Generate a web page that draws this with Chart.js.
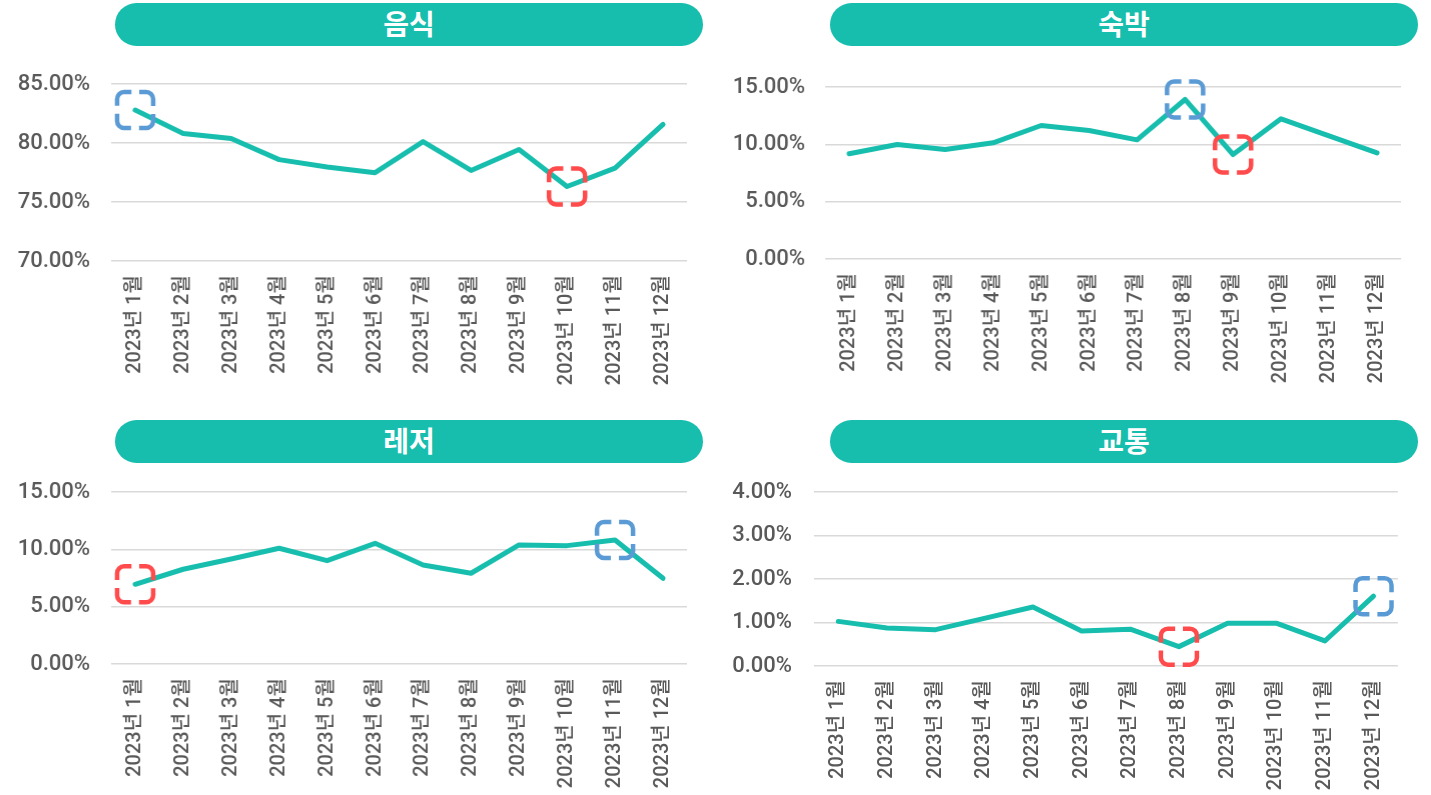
<!DOCTYPE html>
<html>
<head>
<meta charset="utf-8">
<style>
    body { margin: 0; background: #fff; width: 1431px; height: 795px; overflow: hidden; position: relative; }
    .pill {
        position: absolute; height: 43px; width: 588px; border-radius: 22px;
        background: #17BEAE; color: #fff; text-align: center; line-height: 43px;
        font: bold 28px "Noto Sans CJK KR", sans-serif;
    }
    .box { position: absolute; left: 0; top: 0; width: 700px; height: 330px; }
</style>
</head>
<body>
<div class="pill" style="left:115px; top:3px;">음식</div>
<div class="pill" style="left:830px; top:3px;">숙박</div>
<div class="pill" style="left:115px; top:420px;">레저</div>
<div class="pill" style="left:830px; top:420px;">교통</div>

<div class="box"><canvas id="c1"></canvas></div>
<div class="box"><canvas id="c2"></canvas></div>
<div class="box"><canvas id="c3"></canvas></div>
<div class="box"><canvas id="c4"></canvas></div>

<script src="https://cdn.jsdelivr.net/npm/chart.js"></script>
<script>
    // months on the x axis
    const months = ['2023년 1월', '2023년 2월', '2023년 3월', '2023년 4월', '2023년 5월', '2023년 6월',
        '2023년 7월', '2023년 8월', '2023년 9월', '2023년 10월', '2023년 11월', '2023년 12월'];

    // share of spending per category (%)
    const food = [82.81, 80.82, 80.40, 78.61, 77.98, 77.50, 80.14, 77.69, 79.46, 76.33, 77.89, 81.59];
    const lodging = [9.19, 10.00, 9.57, 10.15, 11.66, 11.22, 10.41, 13.93, 9.13, 12.24, 10.75, 9.27];
    const leisure = [6.97, 8.28, 9.17, 10.11, 9.03, 10.54, 8.65, 7.93, 10.40, 10.34, 10.83, 7.49];
    const transport = [1.03, 0.88, 0.84, 1.10, 1.36, 0.81, 0.85, 0.45, 0.99, 0.99, 0.58, 1.61];

    const TEAL = '#17BEAE';
    const FONT = 'Roboto, "Noto Sans CJK KR", sans-serif';

    // dashed rounded square around a point
    function drawBox(ctx, pt, color) {
        const s = 36, r = 7, gap = 8;
        const x0 = pt.x - s / 2, y0 = pt.y - s / 2, x1 = x0 + s, y1 = y0 + s;
        const unit = (4 * (s - 2 * r) + 2 * Math.PI * r) / 4;
        ctx.save();
        ctx.beginPath();
        ctx.moveTo(pt.x, y0);
        ctx.lineTo(x1 - r, y0);
        ctx.arcTo(x1, y0, x1, y0 + r, r);
        ctx.lineTo(x1, y1 - r);
        ctx.arcTo(x1, y1, x1 - r, y1, r);
        ctx.lineTo(x0 + r, y1);
        ctx.arcTo(x0, y1, x0, y1 - r, r);
        ctx.lineTo(x0, y0 + r);
        ctx.arcTo(x0, y0, x0 + r, y0, r);
        ctx.closePath();
        ctx.setLineDash([unit - gap, gap]);
        ctx.lineDashOffset = unit - gap / 2;
        ctx.lineWidth = 4.5;
        ctx.strokeStyle = color;
        ctx.stroke();
        ctx.restore();
    }

    const extremes = {
        id: 'extremes',
        afterDatasetsDraw(chart) {
            const vals = chart.data.datasets[0].data;
            const meta = chart.getDatasetMeta(0);
            const hi = vals.indexOf(Math.max(...vals));
            const lo = vals.indexOf(Math.min(...vals));
            drawBox(chart.ctx, meta.data[hi], '#5B9BD5');
            drawBox(chart.ctx, meta.data[lo], '#FF4B4B');
        }
    };

    // area = plot area wanted on the page: [left, top, right, bottom]
    function makeChart(id, values, yMin, yMax, step, axisWidth, labelPad, area) {
        const canvas = document.getElementById(id);
        const chart = new Chart(canvas, {
            type: 'line',
            data: {
                labels: months,
                datasets: [{
                    data: values,
                    borderColor: TEAL,
                    borderWidth: 5,
                    borderCapStyle: 'round',
                    borderJoinStyle: 'round',
                    pointRadius: 0,
                    tension: 0
                }]
            },
            options: {
                responsive: true,
                maintainAspectRatio: false,
                animation: false,
                layout: { padding: { top: 15, right: 14, left: 0, bottom: 0 } },
                plugins: { legend: { display: false }, tooltip: { enabled: false } },
                scales: {
                    x: {
                        offset: true,
                        grid: { display: false, drawTicks: false },
                        border: { display: false },
                        ticks: {
                            color: '#595959', font: { family: FONT, size: 20, weight: '500' },
                            minRotation: 90, maxRotation: 90, autoSkip: false, padding: 14
                        },
                        afterFit(s) { s.height = 140; }
                    },
                    y: {
                        min: yMin, max: yMax,
                        grid: { color: '#d9d9d9', lineWidth: 1.5, drawTicks: false },
                        border: { display: false },
                        ticks: {
                            stepSize: step, color: '#595959', padding: labelPad,
                            font: { family: FONT, size: 22, weight: '500' },
                            callback: v => v.toFixed(2) + '%'
                        },
                        afterFit(s) { s.width = axisWidth; }
                    }
                }
            },
            plugins: [extremes]
        });

        // move/resize the holder so the plot area lands where wanted
        const box = canvas.parentNode;
        const ca = chart.chartArea;
        const l = ca.left, t = ca.top, r = chart.width - ca.right, b = chart.height - ca.bottom;
        box.style.left = (area[0] - l) + 'px';
        box.style.top = (area[1] - t) + 'px';
        box.style.width = (area[2] - area[0] + l + r) + 'px';
        box.style.height = (area[3] - area[1] + t + b) + 'px';
        chart.resize();
        return chart;
    }

    makeChart('c1', food, 70, 85, 5, 111, 21, [111, 84, 686, 261]);
    makeChart('c2', lodging, 0, 15, 5, 110, 20, [825, 87, 1400, 259]);
    makeChart('c3', leisure, 0, 15, 5, 111, 21, [111, 492, 686, 664]);
    makeChart('c4', transport, 0, 4, 1, 99, 22, [814, 492, 1398, 666]);
</script>
</body>
</html>
